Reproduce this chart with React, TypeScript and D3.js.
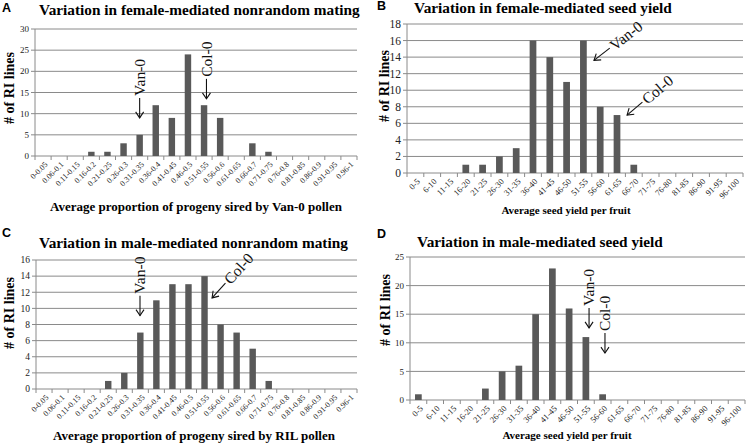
import React from "react";
import * as d3 from "d3";

const catsProportion = ["0-0.05","0.06-0.1","0.11-0.15","0.16-0.2","0.21-0.25","0.26-0.3","0.31-0.35","0.36-0.4","0.41-0.45","0.46-0.5","0.51-0.55","0.56-0.6","0.61-0.65","0.66-0.7","0.71-0.75","0.76-0.8","0.81-0.85","0.86-0.9","0.91-0.95","0.96-1"];
const catsSeed = ["0-5","6-10","11-15","16-20","21-25","26-30","31-35","36-40","41-45","46-50","51-55","56-60","61-65","66-70","71-75","76-80","81-85","86-90","91-95","96-100"];

const femaleMating = [0,0,0,1,1,3,5,12,9,24,12,9,0,3,1,0,0,0,0,0];
const femaleSeed = [0,0,0,1,1,2,3,16,14,11,16,8,7,1,0,0,0,0,0,0];
const maleMating = [0,0,0,0,1,2,7,11,13,13,14,8,7,5,1,0,0,0,0,0];
const maleSeed = [1,0,0,0,2,5,6,15,23,16,11,1,0,0,0,0,0,0,0,0];

const ticksA = [0,5,10,15,20,25,30];
const ticksB = [0,2,4,6,8,10,12,14,16,18];
const ticksC = [0,2,4,6,8,10,12,14,16];
const ticksD = [0,5,10,15,20,25];

const titles = ["Variation in female-mediated nonrandom mating","Variation in female-mediated seed yield","Variation in male-mediated nonrandom mating","Variation in male-mediated seed yield"];
const xTitles = ["Average proportion of progeny sired by Van-0 pollen","Average seed yield per fruit","Average proportion of progeny sired by RIL pollen","Average seed yield per fruit"];
const yTitle = "# of RI lines";
const letters = ["A","B","C","D"];

// annotation: label, position in band units from left, value at arrow tip, angle
const annA = [{ label: "Van-0", pos: 6.5, val: 9, angle: -90 }, { label: "Col-0", pos: 10.65, val: 13.5, angle: -90 }];
const annB = [{ label: "Van-0", pos: 11.13, val: 13.6, angle: -38 }, { label: "Col-0", pos: 13.1, val: 7.0, angle: -40 }];
const annC = [{ label: "Van-0", pos: 6.48, val: 9.1, angle: -90 }, { label: "Col-0", pos: 10.97, val: 11.3, angle: -48 }];
const annD = [{ label: "Van-0", pos: 10.69, val: 12.6, angle: -90 }, { label: "Col-0", pos: 11.64, val: 8.2, angle: -90 }];

const SERIF = "'Liberation Serif', 'Times New Roman', serif";
const SANS = "'Liberation Sans', Arial, sans-serif";
const GRID = "#8a8a8a";
const BAR = "#595959";

type Layout = {
  left: number; right: number; top: number; bottom: number;
  titleX: number; titleY: number; letterX: number; letterY: number;
  yLabX: number; yLabY: number; xLabX: number; xLabY: number;
  yTickFont: number; xTickFont: number; xLabFont: number;
};

const layouts: Layout[] = [
  { left: 35, right: 357, top: 29, bottom: 156, titleX: 39, titleY: 15, letterX: 2, letterY: 12, yLabX: 14, yLabY: 88, xLabX: 196, xLabY: 211, yTickFont: 9, xTickFont: 8, xLabFont: 13 },
  { left: 407, right: 743, top: 24, bottom: 173, titleX: 414, titleY: 12.5, letterX: 377, letterY: 10, yLabX: 389, yLabY: 86, xLabX: 566, xLabY: 214, yTickFont: 11.5, xTickFont: 8.5, xLabFont: 11 },
  { left: 36, right: 357, top: 260, bottom: 389, titleX: 39, titleY: 248, letterX: 2, letterY: 237, yLabX: 14, yLabY: 313, xLabX: 194, xLabY: 440, yTickFont: 9.5, xTickFont: 8, xLabFont: 13 },
  { left: 410, right: 745, top: 257, bottom: 400, titleX: 417, titleY: 247, letterX: 377, letterY: 238, yLabX: 390, yLabY: 310, xLabX: 567, xLabY: 439, yTickFont: 9, xTickFont: 8.5, xLabFont: 11 },
];

type Ann = { label: string; pos: number; val: number; angle: number };

function Panel({ cats, values, ticks, title, xTitle, letter, ann, L }: { cats: string[]; values: number[]; ticks: number[]; title: string; xTitle: string; letter: string; ann: Ann[]; L: Layout }) {
  const x = d3.scaleBand<string>().domain(cats).range([L.left, L.right]).padding(0);
  const y = d3.scaleLinear().domain([0, d3.max(ticks) as number]).range([L.bottom, L.top]);
  const bw = x.bandwidth();
  const posX = (p: number) => L.left + p * bw;
  return (
    <g>
      <text x={L.letterX} y={L.letterY} fontFamily={SANS} fontWeight="bold" fontSize={12.5}>{letter}</text>
      <text x={L.titleX} y={L.titleY} fontFamily={SERIF} fontWeight="bold" fontSize={15.3}>{title}</text>
      {ticks.map((t) => (
        <g key={t}>
          <line x1={L.left - 4} x2={L.right} y1={y(t)} y2={y(t)} stroke={GRID} strokeWidth={1} />
          <text x={L.left - 6} y={y(t)} dy="0.35em" textAnchor="end" fontFamily={SERIF} fontSize={L.yTickFont} fill="#222">{t}</text>
        </g>
      ))}
      <line x1={L.left} x2={L.left} y1={L.top} y2={L.bottom} stroke={GRID} strokeWidth={1} />
      {d3.range(cats.length + 1).map((i) => (
        <line key={i} x1={L.left + i * bw} x2={L.left + i * bw} y1={L.bottom} y2={L.bottom + 4} stroke={GRID} strokeWidth={1} />
      ))}
      {cats.map((c, i) => (
        <rect key={c} x={(x(c) as number) + bw * 0.3} width={bw * 0.4} y={y(values[i])} height={L.bottom - y(values[i])} fill={BAR} />
      ))}
      {cats.map((c) => {
        const cx = (x(c) as number) + bw / 2;
        return (
          <text key={c} transform={`translate(${cx + 3},${L.bottom + 7}) rotate(-45)`} textAnchor="end" dy="0.35em" fontFamily={SERIF} fontSize={L.xTickFont} fill="#222">{c}</text>
        );
      })}
      <text x={L.xLabX} y={L.xLabY} textAnchor="middle" fontFamily={SERIF} fontWeight="bold" fontSize={L.xLabFont}>{xTitle}</text>
      <text transform={`translate(${L.yLabX},${L.yLabY}) rotate(-90)`} textAnchor="middle" fontFamily={SERIF} fontWeight="bold" fontSize={14}>{yTitle}</text>
      {ann.map((a) => (
        <g key={a.label} transform={`translate(${posX(a.pos)},${y(a.val)}) rotate(${a.angle})`}>
          <line x1={0} x2={20} y1={0} y2={0} stroke="#111" strokeWidth={1.1} />
          <path d="M6,-4 L0,0 L6,4" fill="none" stroke="#111" strokeWidth={1.1} />
          <text x={22} y={0} dy="0.35em" fontFamily={SERIF} fontSize={15.5} fill="#111">{a.label}</text>
        </g>
      ))}
    </g>
  );
}

export default function App() {
  const cats = [catsProportion, catsSeed, catsProportion, catsSeed];
  const vals = [femaleMating, femaleSeed, maleMating, maleSeed];
  const ticks = [ticksA, ticksB, ticksC, ticksD];
  const anns = [annA, annB, annC, annD];
  return (
    <svg width={750} height={448} style={{ position: "fixed", left: 0, top: 0, background: "#fff" }}>
      <rect width={750} height={448} fill="#fff" />
      {layouts.map((L, i) => (
        <Panel key={i} cats={cats[i]} values={vals[i]} ticks={ticks[i]} title={titles[i]} xTitle={xTitles[i]} letter={letters[i]} ann={anns[i]} L={L} />
      ))}
    </svg>
  );
}
